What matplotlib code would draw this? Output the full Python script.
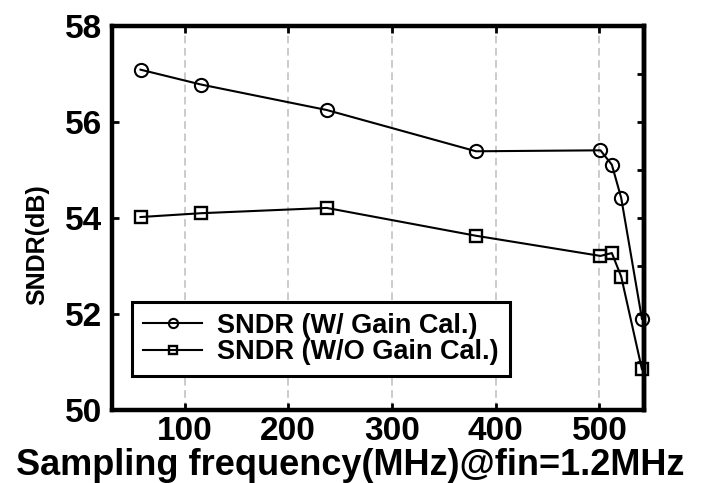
import matplotlib
matplotlib.use("Agg")
import matplotlib.pyplot as plt
from matplotlib.ticker import FixedLocator, NullFormatter

# Sampling frequency (MHz) and measured SNDR (dB)
freq = [57.5, 116, 237, 381, 501, 512, 521, 541]
sndr_cal = [57.09, 56.78, 56.25, 55.39, 55.41, 55.11, 54.42, 51.90]
sndr_nocal = [54.02, 54.10, 54.21, 53.63, 53.21, 53.27, 52.78, 50.85]

label_cal = "SNDR (W/ Gain Cal.)"
label_nocal = "SNDR (W/O Gain Cal.)"
xticks = [100, 200, 300, 400, 500]
yticks = [50, 52, 54, 56, 58]

plt.rcParams["font.family"] = ["Liberation Sans", "DejaVu Sans"]
plt.rcParams["font.weight"] = "bold"

fig = plt.figure(figsize=(7.02, 4.83), dpi=100)
ax = fig.add_axes([112 / 702, 1 - 410 / 483, (644 - 112) / 702, (410 - 26) / 483])

ax.plot(freq, sndr_cal, color="black", lw=1.5, marker="o", ms=9.5,
        mfc="none", mec="black", mew=1.5, label=label_cal, clip_on=False, zorder=3)
ax.plot(freq, sndr_nocal, color="black", lw=1.5, marker="s", ms=8.5,
        mfc="none", mec="black", mew=1.7, label=label_nocal, clip_on=False, zorder=3)

ax.set_xlim(30, 543)
ax.set_ylim(50, 58)
ax.set_xticks(xticks)
ax.set_yticks(yticks)
ax.set_xticklabels([str(v) for v in xticks])
ax.set_yticklabels([str(v) for v in yticks])

ax.xaxis.grid(True, color="#bdbdbd", linestyle=(0, (5, 3)), linewidth=1.1)
ax.yaxis.grid(False)
ax.set_axisbelow(True)

for s in ax.spines.values():
    s.set_linewidth(3.2)

ax.tick_params(axis="x", which="major", direction="in", top=True, bottom=True,
               length=5, width=2, labelsize=24, pad=4)
ax.tick_params(axis="y", which="major", direction="in", left=True, right=False,
               length=5, width=2, labelsize=24, pad=7)
for t in ax.get_xticklabels() + ax.get_yticklabels():
    t.set_fontweight("bold")

# inner ticks every 1 dB along the right spine
sec = ax.secondary_yaxis("right")
sec.yaxis.set_major_locator(FixedLocator(list(range(50, 59))))
sec.yaxis.set_major_formatter(NullFormatter())
sec.tick_params(direction="in", length=5, width=2)
sec.spines["right"].set_linewidth(3.2)

leg = ax.legend(loc="upper left", bbox_to_anchor=((132 - 112) / 532, (411 - 303) / 384),
                frameon=True, fancybox=False, edgecolor="black", framealpha=1,
                prop={"weight": "bold", "size": 19.5}, markerscale=0.7,
                handlelength=2.2, handletextpad=0.55, labelspacing=0.02,
                borderpad=0.4, borderaxespad=0)
leg.get_frame().set_linewidth(2.2)

fig.text(350 / 702, 1 - 475 / 483, "Sampling frequency(MHz)@fin=1.2MHz",
         ha="center", va="baseline", fontsize=26, fontweight="bold")
fig.text(37 / 702, 1 - 245 / 483, "SNDR(dB)", rotation=90,
         ha="center", va="center", fontsize=18, fontweight="bold")

fig.savefig("out.png", dpi=100)
